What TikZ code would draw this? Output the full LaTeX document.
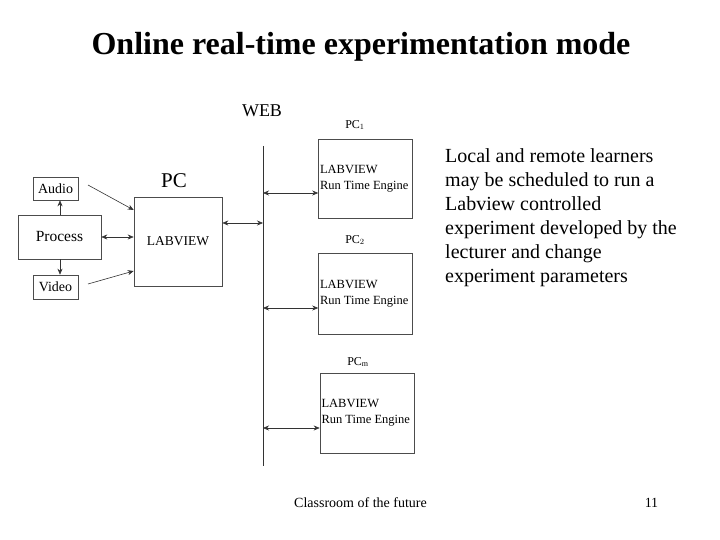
\documentclass[tikz,border=0pt]{standalone}
\usepackage{fontspec}
\setmainfont{Liberation Serif}
\usetikzlibrary{arrows.meta, positioning}
\tikzset{box/.style={draw=black!70, line width=0.6pt, rectangle, inner sep=0pt},
smallbox/.style={box, font=\fontsize{14}{16}\selectfont},
enginebox/.style={box, minimum width=93pt, minimum height=80pt, text width=91pt, inner xsep=1.5pt, align=flush left, font=\fontsize{12.5}{16}\selectfont},
link/.style={draw=black!80, line width=0.6pt},
oneway/.style={link, -{Stealth[length=6pt, width=5pt]}},
twoway/.style={link, {Stealth[length=6pt, width=5pt]}-{Stealth[length=6pt, width=5pt]}}}

\begin{document}
\begin{tikzpicture}[x=1pt, y=-1pt]
        \useasboundingbox (0, 0) rectangle (720, 540);
        % Title
        \node[font=\fontsize{32}{36}\selectfont\bfseries] (title) at (361, 47) {Online real-time experimentation mode};
        % Local side
        \node[smallbox, minimum width=45pt, minimum height=23pt] (audio) at (55.5, 188.5) {Audio};
        \node[smallbox, minimum width=83pt, minimum height=44pt, font=\fontsize{15.5}{17}\selectfont] (process) at (59.5, 237) {Process};
        \node[smallbox, minimum width=45pt, minimum height=24pt] (video) at (55.5, 287) {Video};
        \node[box, minimum width=88pt, minimum height=89pt, font=\fontsize{13.5}{16}\selectfont] (pcbox) at (178, 241.5) {LABVIEW};
        \node[font=\fontsize{21}{24}\selectfont] (pclabel) at (174, 181) {PC};
        % Web
        \node[font=\fontsize{18}{20}\selectfont] (weblabel) at (262, 111) {WEB};
        \coordinate (webtop) at (263, 146);
        \coordinate (webbot) at (263, 466);
        \draw[link] (webtop) -- (webbot);
        % Remote side
        \node[enginebox, minimum height=79pt] (pc1) at (365.5, 178.5) {LABVIEW\\Run Time Engine};
        \node[enginebox, minimum height=81pt] (pc2) at (365.5, 293.5) {LABVIEW\\Run Time Engine};
        \node[enginebox, minimum width=92pt] (pcm) at (367, 413) {LABVIEW\\Run Time Engine};
        \node[font=\fontsize{12}{14}\selectfont] (pc1label) at (355, 125) {PC$_1$};
        \node[font=\fontsize{12}{14}\selectfont] (pc2label) at (355, 240) {PC$_2$};
        \node[font=\fontsize{12}{14}\selectfont] (pcmlabel) at (358, 362) {PC$_{\mathrm{m}}$};
        % Connections
        \draw[oneway] (process.north -| 60, 0) -- (audio.south -| 60, 0);
        \draw[oneway] (process.south -| 60, 0) -- (video.north -| 60, 0);
        \draw[twoway] (process.east) -- (process.east -| pcbox.west);
        \coordinate (audioout) at (88, 185);
        \coordinate (videoout) at (88, 284);
        \draw[oneway] (audioout) -- ([yshift=31.5pt]pcbox.west);
        \draw[oneway] (videoout) -- ([yshift=-29.5pt]pcbox.west);
        \coordinate (pcout) at ([yshift=18.5pt]pcbox.east);
        \draw[twoway] (pcout) -- (pcout -| webtop);
        \coordinate (pc1in) at ([yshift=-14.5pt]pc1.west);
        \coordinate (pc2in) at ([yshift=-14.5pt]pc2.west);
        \coordinate (pcmin) at ([yshift=-15pt]pcm.west);
        \draw[twoway] (pc1in -| webtop) -- (pc1in);
        \draw[twoway] (pc2in -| webtop) -- (pc2in);
        \draw[twoway] (pcmin -| webtop) -- (pcmin);
        % Note
        \node[anchor=north west, align=left, inner sep=0pt, font=\fontsize{20}{24}\selectfont] (note) at (445, 148) {Local and remote learners\\may be scheduled to run a\\Labview controlled\\experiment developed by the\\lecturer and change\\experiment parameters};
        % Footer
        \node[font=\fontsize{14}{16}\selectfont] (footer) at (360.5, 503) {Classroom of the future};
        \node[font=\fontsize{14}{16}\selectfont] (pagenum) at (651.5, 503) {11};
    \end{tikzpicture}
\end{document}
